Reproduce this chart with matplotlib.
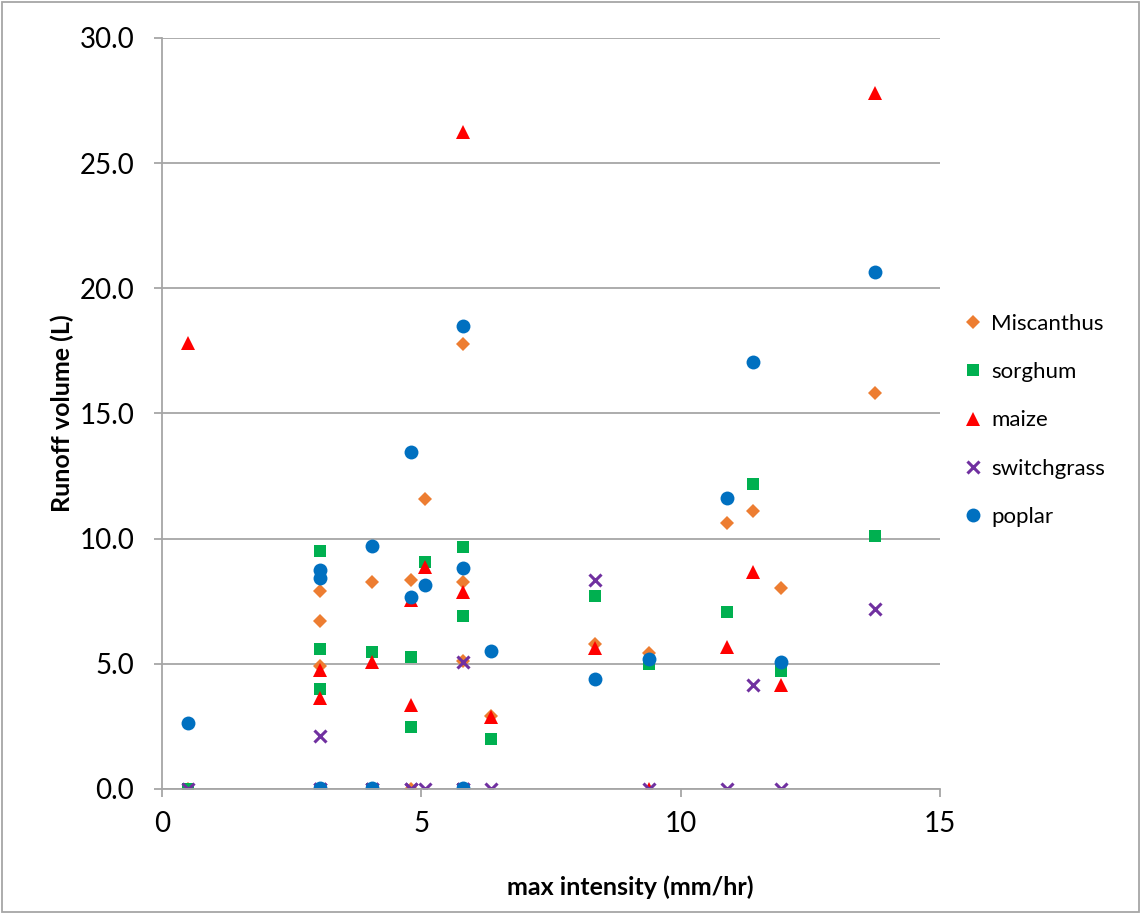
import matplotlib.pyplot as plt
from matplotlib.patches import Rectangle

# --- Data: one entry per rainfall event ---
max_intensity = [0.5, 3.05, 3.05, 3.05, 4.05, 4.05, 4.8, 4.8, 5.07, 5.8, 5.8, 5.8,
                 6.34, 8.35, 9.38, 10.9, 11.4, 11.93, 13.74]

miscanthus = [0.0, 7.91, 6.71, 4.9, 8.28, 0.0, 8.35, 0.0, 11.57, 17.78, 8.28, 5.1,
              2.9, 5.79, 5.45, 10.63, 11.1, 8.02, 15.81]
sorghum = [0.0, 9.52, 5.58, 3.98, 5.49, 0.0, 5.29, 2.49, 9.08, 9.66, 6.91, 0.0,
           1.98, 7.72, 4.99, 7.08, 12.19, 4.71, 10.1]
maize = [17.8, 4.75, 3.63, 0.0, 5.09, 0.0, 7.55, 3.36, 8.86, 26.26, 7.88, 0.0,
         2.86, 5.62, 0.0, 5.68, 8.68, 4.16, 27.8]
switchgrass = [0.0, 2.13, 0.0, 0.0, 0.0, 0.0, 0.0, 0.0, 0.0, 5.09, 0.0, 0.0,
               0.0, 8.35, 0.0, 0.0, 4.16, 0.0, 7.2]
poplar = [2.65, 8.75, 8.44, 0.05, 9.72, 0.05, 13.48, 7.68, 8.15, 18.5, 8.81, 0.05,
          5.51, 4.38, 5.21, 11.63, 17.06, 5.09, 20.64]

series = [
    ("Miscanthus", miscanthus, "#ED7D31", "D", 7),
    ("sorghum", sorghum, "#00B050", "s", 9),
    ("maize", maize, "#FF0000", "^", 10),
    ("switchgrass", switchgrass, "#7030A0", "x", 9),
    ("poplar", poplar, "#0070C0", "o", 10),
]

plt.rcParams["font.family"] = ["Lato", "DejaVu Sans"]

fig = plt.figure(figsize=(11.44, 9.19), dpi=100)
ax = fig.add_axes([0.1416, 0.1415, 0.6801, 0.8172])

for name, vals, color, marker, size in series:
    kw = dict(markeredgewidth=2.2) if marker == "x" else dict(markeredgewidth=0)
    ax.plot(max_intensity, vals, linestyle="none", marker=marker, color=color,
            markersize=size, label=name, **kw)

ax.set_xlim(0, 15)
ax.set_ylim(0, 30)
ax.set_xticks([0, 5, 10, 15])
ax.set_yticks(range(0, 31, 5))
ax.set_yticklabels([f"{v:.1f}" for v in range(0, 31, 5)])
ax.yaxis.grid(True, color="#A6A6A6", linewidth=1.3)
ax.set_axisbelow(True)

for side in ["top", "right"]:
    ax.spines[side].set_visible(False)
for side in ["left", "bottom"]:
    ax.spines[side].set_color("#A6A6A6")
    ax.spines[side].set_linewidth(1.3)
ax.tick_params(axis="both", colors="#A6A6A6", labelcolor="black", labelsize=20,
               length=6, width=1.3)
ax.tick_params(axis="x", pad=10)
ax.tick_params(axis="y", pad=14)

fig.text(0.551, 0.035, "max intensity (mm/hr)", fontsize=18, fontweight="bold",
         ha="center", va="center")
ax.set_ylabel("Runoff volume (L)", fontsize=18, fontweight="bold", labelpad=4)

ax.legend(loc="upper left", bbox_to_anchor=(1.0, 0.659), frameon=False,
          fontsize=16, handletextpad=0.2, labelspacing=1.27, handlelength=1.2)

# outer chart border
fig.patches.append(Rectangle((0.002, 0.008), 0.994, 0.99, transform=fig.transFigure,
                             fill=False, edgecolor="#A6A6A6", linewidth=1.3))

plt.savefig("out.png", dpi=100)
